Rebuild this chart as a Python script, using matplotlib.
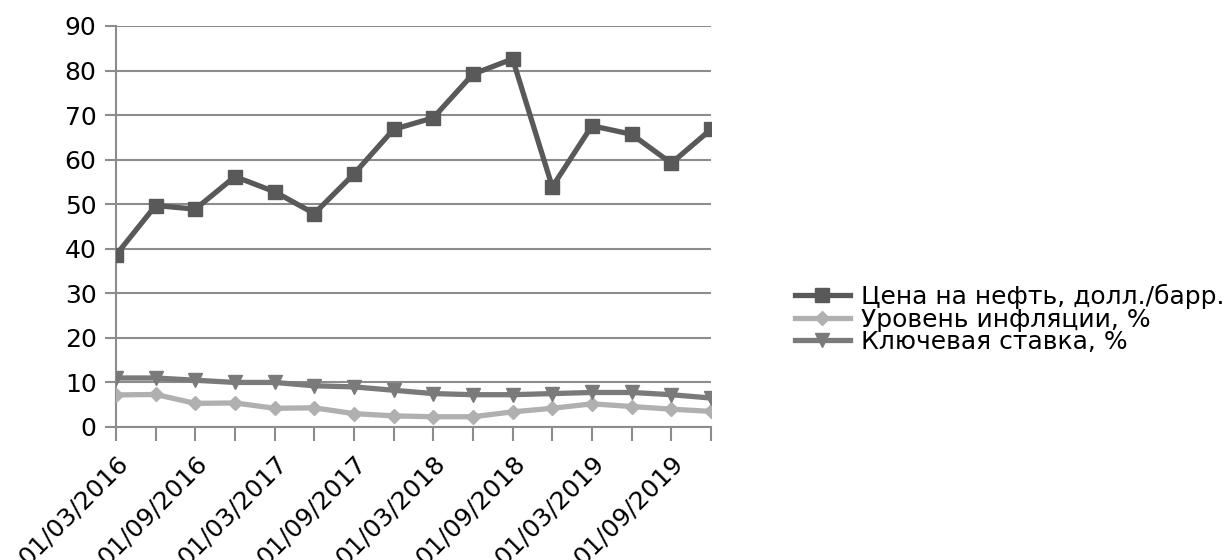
import matplotlib.pyplot as plt

# Quarterly dates, oil price, inflation and key rate
dates = ['01/03/2016', '01/06/2016', '01/09/2016', '01/12/2016',
         '01/03/2017', '01/06/2017', '01/09/2017', '01/12/2017',
         '01/03/2018', '01/06/2018', '01/09/2018', '01/12/2018',
         '01/03/2019', '01/06/2019', '01/09/2019', '01/12/2019']
oil = [38.6, 49.7, 48.9, 56.2, 52.8, 47.9, 56.8, 66.8,
       69.4, 79.2, 82.6, 53.9, 67.6, 65.7, 59.2, 66.8]
inflation = [7.2, 7.3, 5.3, 5.4, 4.2, 4.3, 3.0, 2.5,
             2.3, 2.3, 3.4, 4.2, 5.2, 4.6, 4.0, 3.5]
key_rate = [11.0, 11.0, 10.5, 10.0, 10.0, 9.25, 9.0, 8.25,
            7.5, 7.25, 7.25, 7.5, 7.75, 7.75, 7.25, 6.5]

labels = ['Цена на нефть, долл./барр.', 'Уровень инфляции, %', 'Ключевая ставка, %']

fig = plt.figure(figsize=(12.3, 5.6), dpi=100)
ax = fig.add_axes([0.0943, 0.2375, 0.4837, 0.7161])

x = list(range(len(dates)))
grid_col = '#8c8c8c'

ax.plot(x, oil, color='#595959', lw=3.8, marker='s', ms=9.5, label=labels[0], zorder=4)
ax.plot(x, inflation, color='#b0b0b0', lw=3.8, marker='D', ms=7.5, label=labels[1], zorder=3)
ax.plot(x, key_rate, color='#7a7a7a', lw=3.8, marker='v', ms=10.5, label=labels[2], zorder=3)

ax.set_xlim(0, len(dates) - 1)
ax.set_ylim(0, 90)
ax.set_yticks(range(0, 91, 10))
ax.yaxis.grid(True, color=grid_col, lw=1.5)
ax.set_axisbelow(True)

ax.set_xticks(x)
ax.set_xticklabels([d if i % 2 == 0 else '' for i, d in enumerate(dates)],
                   rotation=45, ha='right', rotation_mode='anchor', fontsize=18)
ax.tick_params(axis='x', length=10, width=1.5, color=grid_col, pad=7)
ax.tick_params(axis='y', length=8, width=1.5, color=grid_col, labelsize=18, pad=6)

for side in ['top', 'right']:
    ax.spines[side].set_visible(False)
for side in ['left', 'bottom']:
    ax.spines[side].set_color(grid_col)
    ax.spines[side].set_linewidth(1.5)

fig.legend(loc='center left', bbox_to_anchor=(0.6463, 0.4304), frameon=False,
           fontsize=18, handlelength=2.2, handletextpad=0.45, labelspacing=-0.06,
           borderpad=0, borderaxespad=0)

fig.savefig('out.png', dpi=100)
